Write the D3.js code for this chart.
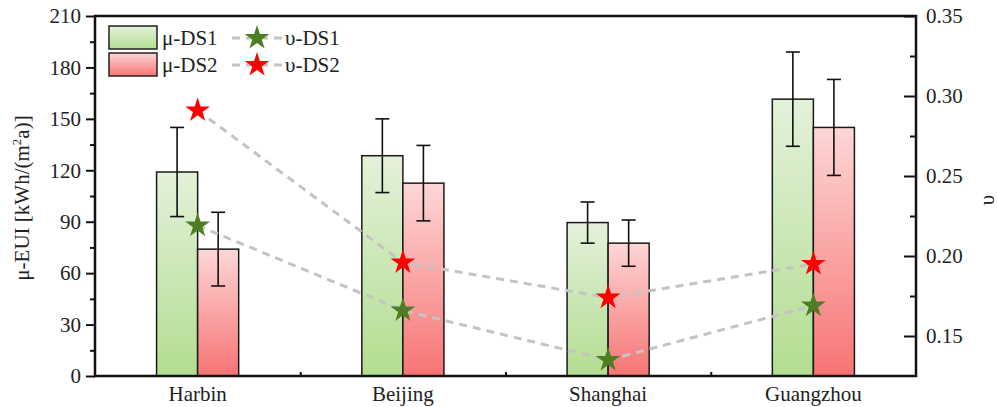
<!DOCTYPE html>
<html>
<head>
<meta charset="utf-8">
<script src="https://cdn.jsdelivr.net/npm/d3@7/dist/d3.min.js"></script>
<style>
  html, body { margin: 0; padding: 0; background: #fff; }
  svg { display: block; font-family: "Liberation Serif", "Times New Roman", serif; }
</style>
</head>
<body>
<svg id="chart" width="998" height="407"></svg>
<script>
// Cities and measured values
const cities = ["Harbin", "Beijing", "Shanghai", "Guangzhou"];
const muDS1 = [119, 128.5, 89.5, 161.5];
const muDS1Err = [26, 21.5, 12, 27.5];
const muDS2 = [74, 112.5, 77.5, 145];
const muDS2Err = [21.5, 22, 13.5, 28];
const nuDS1 = [0.219, 0.166, 0.135, 0.169];
const nuDS2 = [0.291, 0.196, 0.174, 0.195];
const leftTicks = [0, 30, 60, 90, 120, 150, 180, 210];
const rightTicks = [0.15, 0.20, 0.25, 0.30, 0.35];

const svg = d3.select("#chart");
const L = 95, R = 916, T = 16, B = 376;

const x = d3.scaleBand().domain(cities).range([L, R]).padding(0);
const yL = d3.scaleLinear().domain([0, 210]).range([B, T]);
const yR = d3.scaleLinear().domain([0.125, 0.35]).range([B, T]);
const barW = x.bandwidth() * 0.2;

// gradients
const defs = svg.append("defs");
function grad(id, top, bottom) {
  const g = defs.append("linearGradient").attr("id", id)
    .attr("x1", 0).attr("y1", 0).attr("x2", 0).attr("y2", 1);
  g.append("stop").attr("offset", "0%").attr("stop-color", top);
  g.append("stop").attr("offset", "100%").attr("stop-color", bottom);
}
grad("gGreen", "#e3f1da", "#b3dd90");
grad("gRed", "#fdd6d6", "#f77474");

// star symbol path
const starPath = d3.symbol().type(d3.symbolStar).size(190)();

const series = [
  { vals: muDS1, err: muDS1Err, fill: "url(#gGreen)", off: -1 },
  { vals: muDS2, err: muDS2Err, fill: "url(#gRed)", off: 0 }
];

// bars
series.forEach(s => {
  svg.append("g").selectAll("rect").data(cities).join("rect")
    .attr("x", (c) => x(c) + x.bandwidth() / 2 + s.off * barW)
    .attr("y", (c, i) => yL(s.vals[i]))
    .attr("width", barW)
    .attr("height", (c, i) => B - yL(s.vals[i]))
    .attr("fill", s.fill)
    .attr("stroke", "#1a1a1a")
    .attr("stroke-width", 1.5);
});

// error bars
series.forEach(s => {
  const g = svg.append("g").attr("stroke", "#111").attr("stroke-width", 1.6);
  cities.forEach((c, i) => {
    const cx = x(c) + x.bandwidth() / 2 + s.off * barW + barW / 2;
    const y1 = yL(s.vals[i] + s.err[i]), y2 = yL(s.vals[i] - s.err[i]);
    g.append("line").attr("x1", cx).attr("x2", cx).attr("y1", y1).attr("y2", y2);
    g.append("line").attr("x1", cx - 7).attr("x2", cx + 7).attr("y1", y1).attr("y2", y1);
    g.append("line").attr("x1", cx - 7).attr("x2", cx + 7).attr("y1", y2).attr("y2", y2);
  });
});

// υ lines and stars
const lineGen = d3.line()
  .x((d, i) => x(cities[i]) + x.bandwidth() / 2)
  .y(d => yR(d));
[{ vals: nuDS1, color: "#4d7f22" }, { vals: nuDS2, color: "#ff0000" }].forEach(s => {
  svg.append("path").datum(s.vals).attr("d", lineGen)
    .attr("fill", "none").attr("stroke", "#c4c4c4")
    .attr("stroke-width", 3).attr("stroke-dasharray", "8,6");
  svg.append("g").selectAll("path").data(s.vals).join("path")
    .attr("d", starPath)
    .attr("transform", (d, i) => `translate(${x(cities[i]) + x.bandwidth() / 2},${yR(d)})`)
    .attr("fill", s.color);
});

// axes
const fontSize = 21;
const left = svg.append("g").attr("transform", `translate(${L},0)`)
  .call(d3.axisLeft(yL).tickValues(leftTicks).tickSize(9).tickPadding(5).tickFormat(d3.format("d")));
const leftMinor = svg.append("g").attr("transform", `translate(${L},0)`)
  .call(d3.axisLeft(yL).tickValues(d3.range(15, 210, 30)).tickSize(5).tickFormat(""));
const right = svg.append("g").attr("transform", `translate(${R},0)`)
  .call(d3.axisRight(yR).tickValues(rightTicks).tickSize(-12).tickPadding(10).tickFormat(d3.format(".2f")));
const rightMinor = svg.append("g").attr("transform", `translate(${R},0)`)
  .call(d3.axisRight(yR).tickValues([0.175, 0.225, 0.275, 0.325]).tickSize(-6).tickFormat(""));
const bottom = svg.append("g").attr("transform", `translate(0,${B})`)
  .call(d3.axisBottom(x).tickSize(0).tickPadding(10));
const bottomMinor = svg.append("g").attr("transform", `translate(0,${B})`)
  .call(d3.axisBottom(d3.scaleLinear().domain([L, R]).range([L, R]))
    .tickValues(cities.slice(1).map(c => x(c))).tickSize(-4).tickFormat(""));

[left, leftMinor, right, rightMinor, bottom, bottomMinor].forEach(g => {
  g.select(".domain").remove();
  g.selectAll("line").attr("stroke", "#111").attr("stroke-width", 2);
  g.selectAll("text").attr("font-size", fontSize).attr("fill", "#222")
    .attr("font-family", "'Liberation Serif', 'Times New Roman', serif");
});

// frame
svg.append("rect").attr("x", L).attr("y", T).attr("width", R - L).attr("height", B - T)
  .attr("fill", "none").attr("stroke", "#111").attr("stroke-width", 2.5);

// axis titles
const lt = svg.append("text")
  .attr("transform", `translate(29,${(T + B) / 2 + 2}) rotate(-90)`)
  .attr("text-anchor", "middle").attr("font-size", fontSize).attr("fill", "#222");
lt.append("tspan").text("μ-EUI [kWh/(m");
lt.append("tspan").attr("dy", -8).attr("font-size", 13).text("2");
lt.append("tspan").attr("dy", 8).text("a)]");

svg.append("text")
  .attr("transform", `translate(994,${(T + B) / 2 + 4}) rotate(-90)`)
  .attr("text-anchor", "middle").attr("font-size", fontSize).attr("fill", "#222")
  .text("υ");

// legend
const lg = svg.append("g");
const legBars = [
  { label: "μ-DS1", fill: "url(#gGreen)", y: 26 },
  { label: "μ-DS2", fill: "url(#gRed)", y: 53 }
];
legBars.forEach(d => {
  lg.append("rect").attr("x", 109).attr("y", d.y).attr("width", 48).attr("height", 23)
    .attr("fill", d.fill).attr("stroke", "#222").attr("stroke-width", 1.5);
  lg.append("text").attr("x", 162).attr("y", d.y + 19).attr("font-size", fontSize)
    .attr("fill", "#222").text(d.label);
});
const legLines = [
  { label: "υ-DS1", color: "#4d7f22", y: 38 },
  { label: "υ-DS2", color: "#ff0000", y: 65 }
];
legLines.forEach(d => {
  lg.append("line").attr("x1", 232).attr("x2", 282).attr("y1", d.y).attr("y2", d.y)
    .attr("stroke", "#c4c4c4").attr("stroke-width", 3).attr("stroke-dasharray", "8,6");
  lg.append("path").attr("d", starPath).attr("transform", `translate(257,${d.y})`)
    .attr("fill", d.color);
  lg.append("text").attr("x", 285).attr("y", d.y + 7).attr("font-size", fontSize)
    .attr("fill", "#222").text(d.label);
});
</script>
</body>
</html>
